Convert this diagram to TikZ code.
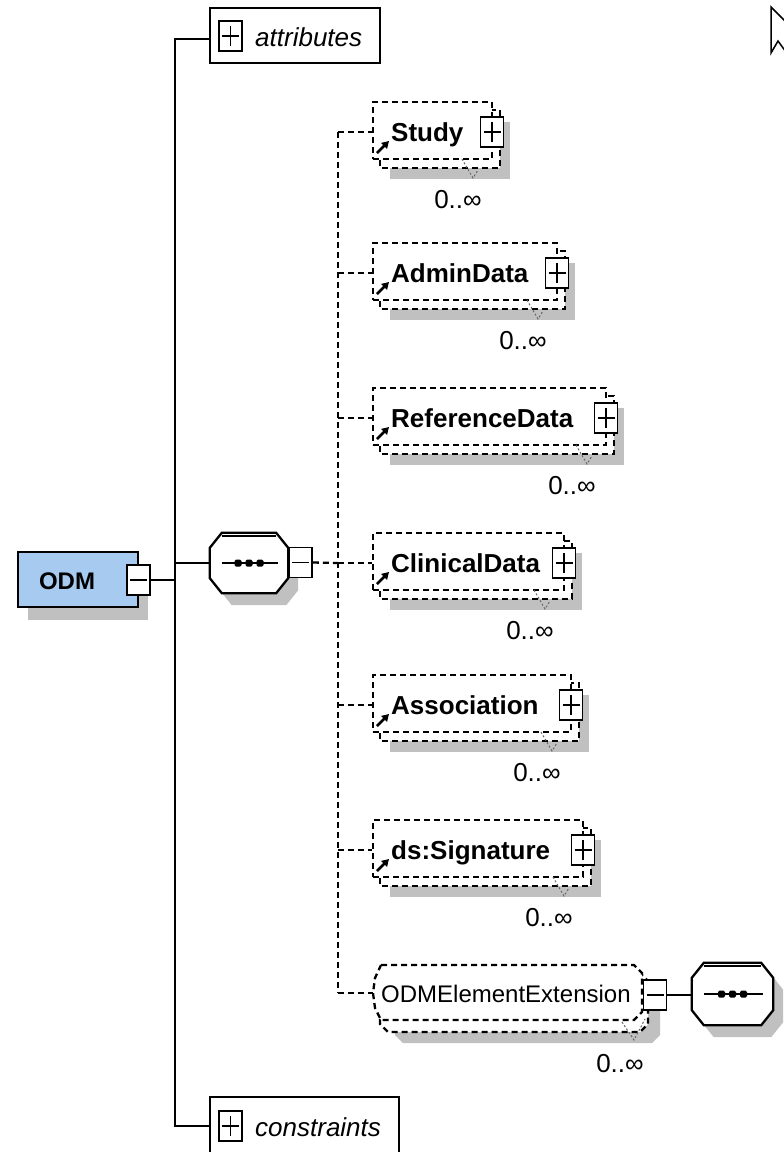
\documentclass[tikz,border=0pt]{standalone}
\usepackage{fontspec}
\setmainfont{Liberation Sans}
\usetikzlibrary{arrows.meta,fit}
\definecolor{shadowc}{RGB}{192,192,192}
\definecolor{odmblue}{RGB}{166,202,240}
\tikzset{
  solidln/.style={line width=2.3pt, black},
  dashln/.style={line width=2.3pt, black, dash pattern=on 6pt off 4pt},
  foldln/.style={line width=1pt, black!60, dash pattern=on 2pt off 2pt},
  pmbox/.style={draw, fill=white, line width=1.8pt, minimum width=23pt, minimum height=30pt, inner sep=0pt},
  plusbox/.style={pmbox, path picture={
      \draw[line width=1.8pt] ([xshift=3pt]path picture bounding box.west) -- ([xshift=-3pt]path picture bounding box.east);
      \draw[line width=1.8pt] ([yshift=-5pt]path picture bounding box.north) -- ([yshift=5pt]path picture bounding box.south);}},
  minusbox/.style={pmbox, path picture={
      \draw[line width=1.8pt] ([xshift=3pt]path picture bounding box.west) -- ([xshift=-3pt]path picture bounding box.east);}},
  groupbox/.style={draw, fill=white, line width=2.3pt, inner sep=0pt},
  grouptext/.style={font=\fontsize{26}{28}\selectfont\itshape, inner sep=0pt, anchor=base west},
  elemtext/.style={font=\fontsize{26}{28}\selectfont\bfseries, inner sep=0pt, anchor=base west},
  exttext/.style={font=\fontsize{24}{26}\selectfont, inner sep=0pt, anchor=base west},
  cardtext/.style={font=\fontsize{26}{28}\selectfont, inner sep=0pt, anchor=base},
  odmtext/.style={font=\fontsize{24}{26}\selectfont\bfseries, inner sep=0pt, anchor=base},
  frontbox/.style={draw, dashln, fill=white, inner sep=0pt},
  refarrow/.style={line width=2.6pt, -{Triangle[length=7pt,width=8pt]}},
  seqnode/.style={inner sep=0pt, draw=none},
}
% octagon path around a node, shifted by (#2,#3)
\newcommand\octa[3]{([shift={(12+#2,#3)}]#1.north west) -- ([shift={(-12+#2,#3)}]#1.north east) -- ([shift={(#2,15+#3)}]#1.north east) -- ([shift={(#2,-15+#3)}]#1.south east) -- ([shift={(-12+#2,#3)}]#1.south east) -- ([shift={(12+#2,#3)}]#1.south west) -- ([shift={(#2,-15+#3)}]#1.south west) -- ([shift={(#2,15+#3)}]#1.north west) -- cycle}
\newcommand\seqdraw[1]{%
  \fill[shadowc] \octa{#1}{10}{12};
  \draw[solidln, fill=white] \octa{#1}{0}{0};
  \draw[line width=2pt] ([shift={(12,3)}]#1.north west) -- ([shift={(-12,3)}]#1.north east);
  \draw[solidln] ([xshift=12pt]#1.west) -- ([xshift=-10pt]#1.east);
  \foreach \dx in {-11,0,11} {\fill[rounded corners=1.5pt] ([xshift=\dx pt]#1.center) +(-3.5,-3.5) rectangle +(3.5,3.5);}
}
% element: id, connector y, right x, text
\newcommand\xelem[4]{%
  \fill[shadowc] (390,#2-10) rectangle (#3+18,#2+47);
  \draw[dashln, fill=white] (380,#2-22) rectangle (#3+8,#2+36);
  \node[frontbox, fit={(373,#2-30) (#3,#2+27)}] (#1) {};
  \draw[foldln] (#3-30,#2+27) -- (#3-19,#2+46) -- (#3-14,#2+38);
  \node[elemtext] (#1t) at (391,#2+9.5) {#4};
  \node[plusbox] (#1p) at (#3,#2) {};
  \draw[refarrow] (377,#2+21) -- (389,#2+9);
  \node[cardtext] (#1c) at (#3-34,#2+76.5) {0..∞};
  \coordinate (#1v) at (338,#2);
  \draw[dashln] (#1v) -- (#1.west |- #1v);
}
\begin{document}
\begin{tikzpicture}[x=1pt,y=-1pt]
\useasboundingbox[fill=white] (0,0) rectangle (784,1152);

% trunk coordinates
\coordinate (tA) at (175,39);
\coordinate (tC) at (175,1126);
\coordinate (tS) at (175,563);

% attributes and constraints
\node[groupbox, minimum width=170pt, minimum height=55pt] (attr) at (295,35.5) {};
\node[plusbox] (attrp) at (230.5,36) {};
\node[grouptext] (attrt) at (255,46) {attributes};
\node[groupbox, minimum width=189pt, minimum height=62pt] (cons) at (304.5,1128) {};
\node[plusbox] (consp) at (230.5,1126) {};
\node[grouptext] (const) at (255,1136) {constraints};

\draw[solidln] (attr.west |- tA) -- (tA) -- (tC) -- (cons.west |- tC);

% ODM root
\fill[shadowc] (28,565) rectangle (148,620);
\node[draw, fill=odmblue, line width=2.3pt, minimum width=120pt, minimum height=55pt, inner sep=0pt] (odm) at (78,579.5) {};
\node[odmtext] (odmt) at (67,589) {ODM};
\node[minusbox] (odmm) at (138.5,580) {};
\draw[solidln] (odmm.east) -- (odmm.east -| tA);

% main sequence compositor
\node[seqnode, minimum width=78pt, minimum height=60pt] (seq) at (249,563) {};
\seqdraw{seq}
\draw[solidln] (tS) -- (seq.west |- tS);
\node[minusbox] (seqm) at (300.5,562.5) {};

% elements
\xelem{study}{132}{492}{Study}
\xelem{admin}{273}{557}{AdminData}
\xelem{refd}{418}{606}{ReferenceData}
\xelem{clin}{563}{564}{ClinicalData}
\xelem{assoc}{705}{571}{Association}
\xelem{sig}{850}{583}{ds:Signature}

% ODMElementExtension
\fill[shadowc] (395,985) -- (652,985) -- (660,993) -- (660,1035) -- (652,1043) -- (403,1043) -- (395,1035) -- cycle;
\draw[dashln, fill=white] (388,973) -- (640,973) -- (648,981) -- (648,1024) -- (640,1032) -- (388,1032) -- (380,1024) -- (380,981) -- cycle;
\draw[dashln, fill=white] (381,965) -- (634,965) -- (642,973) -- (642,1012) -- (634,1020) -- (381,1020) -- (375,1008) -- (373,993) -- (375,978) -- cycle;
\node[fit={(373,965) (642,1020)}, inner sep=0pt] (ext) {};
\draw[foldln] (622,1022) -- (634,1040) -- (645,1019);
\node[exttext] (extt) at (381,1002) {ODMElementExtension};
\node[minusbox] (extm) at (655,995) {};
\node[cardtext] (extc) at (620,1072.5) {0..∞};
\coordinate (extv) at (338,993);
\draw[dashln] (extv) -- (ext.west |- extv);

% extension compositor
\node[seqnode, minimum width=81pt, minimum height=62pt] (eseq) at (732.5,994) {};
\seqdraw{eseq}
\draw[solidln] (extm.east) -- (eseq.west |- extm.east);

% dashed spine
\draw[dashln] (studyv) -- (extv);
\draw[dashln] (seqm.east) -- (clinv);

% cursor
\draw[line width=1.5pt, fill=white] (786,22) -- (771,7) -- (771,53) -- (778,41) -- (786,52);
\end{tikzpicture}
\end{document}
